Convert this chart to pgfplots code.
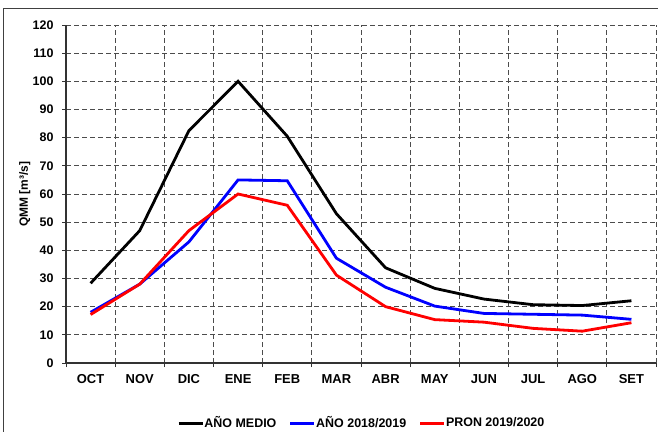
\documentclass[border=0pt]{standalone}
\usepackage{pgfplots}
\pgfplotsset{compat=1.18}
\usepackage{fontspec}
\setmainfont{Liberation Sans}

\pgfplotstableread{
x medio a1819 pron
0  28.3 18.0 17.2
1  47.0 28.0 28.0
2  82.5 43.0 47.0
3  100.0 65.0 60.0
4  80.5 64.7 56.0
5  53.0 37.2 31.2
6  33.8 26.9 20.0
7  26.5 20.2 15.4
8  22.7 17.6 14.5
9  20.7 17.3 12.3
10 20.4 17.0 11.3
11 22.1 15.5 14.3
}\datatable

\begin{document}
\begin{tikzpicture}[x=1bp,y=1bp]
\useasboundingbox (0,0) rectangle (658,431);
\draw[color=black!75, line width=0.9bp] (3,-5) -- (3,423) -- (665,423);
\begin{axis}[
at={(66bp,68bp)}, anchor=south west,
scale only axis, width=590bp, height=338bp,
xmin=-0.5, xmax=11.5, ymin=0, ymax=120,
axis x line=bottom, axis y line=left,
axis line style={-, line width=1.1bp, black!80},
xtick={0,...,11},
xticklabels={OCT,NOV,DIC,ENE,FEB,MAR,ABR,MAY,JUN,JUL,AGO,SET},
minor xtick={-0.5,0.5,...,11.5},
major x tick style={draw=none},
minor x tick style={black!80, line width=0.9bp},
ytick={0,10,...,120},
ytick style={black!80, line width=0.9bp},
tick align=outside,
major tick length=4bp, minor tick length=4bp,
xminorgrids, ymajorgrids,
grid style={dashed, black!70, line width=0.9bp, dash pattern=on 5bp off 3bp},
minor grid style={dashed, black!70, line width=0.9bp, dash pattern=on 5bp off 3bp},
/pgf/number format/assume math mode=true,
yticklabel style={font=\fontsize{12.5}{14}\selectfont\bfseries, xshift=-5bp},
xticklabel style={font=\fontsize{13}{15}\selectfont\bfseries, yshift=-4bp},
ylabel={QMM [m³/s]},
ylabel style={font=\fontsize{12}{14}\selectfont\bfseries, at={(axis description cs:-0.07,0.5)}, anchor=center},
legend columns=3,
legend style={draw=none, fill=none, at={(axis description cs:0.5,-0.178)}, anchor=center,
  font=\fontsize{12.5}{14}\selectfont\bfseries, nodes={inner xsep=0.5bp},
  /tikz/every even column/.append style={column sep=12bp}},
legend image code/.code={\draw[#1, line width=2.8bp] (0bp,0bp) -- (24bp,0bp);},
]
\addplot[black, line width=2.8bp] table[x=x, y=medio] {\datatable};
\addlegendentry{AÑO MEDIO}
\addplot[blue, line width=2.8bp] table[x=x, y=a1819] {\datatable};
\addlegendentry{AÑO 2018/2019}
\addplot[red, line width=2.8bp] table[x=x, y=pron] {\datatable};
\addlegendentry{PRON 2019/2020}
\end{axis}
\end{tikzpicture}
\end{document}
